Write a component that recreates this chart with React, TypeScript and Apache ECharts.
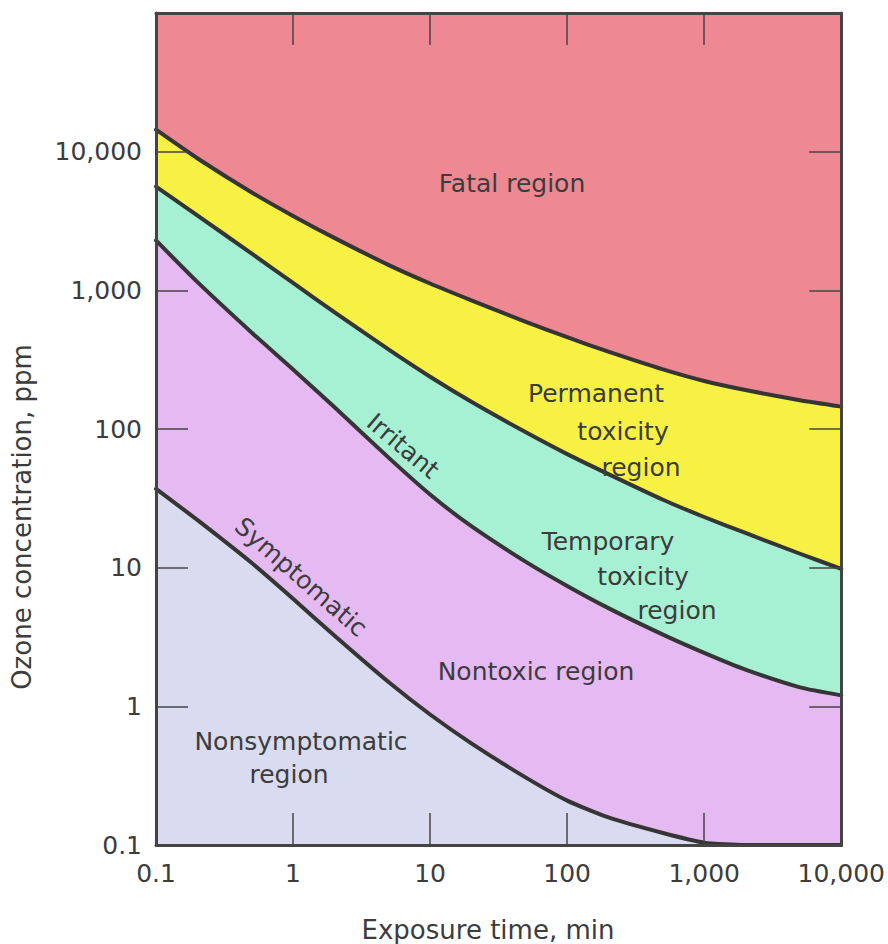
import React, { useEffect, useRef } from "react";
import * as echarts from "echarts";

// Exposure time (min) sample points along the boundaries
const exposureTimes = [0.1, 0.2, 0.5, 1, 2, 5, 10, 20, 50, 100, 200, 500, 1000, 2000, 5000, 10000];
// Ozone concentration (ppm) of each boundary curve
const fatalBoundary = [14400, 8970, 5080, 3440, 2390, 1520, 1120, 847, 593, 459, 361, 269, 222, 191, 161, 145];
const permanentBoundary = [5600, 3470, 1840, 1130, 697, 373, 238, 157, 94.6, 65.9, 47.3, 30.9, 23.2, 17.8, 12.6, 9.8];
const irritantBoundary = [2290, 1150, 495, 269, 144, 61.9, 33.7, 19.9, 11.0, 7.38, 5.11, 3.29, 2.43, 1.84, 1.37, 1.2];
const symptomaticBoundary = [37, 22.1, 10.8, 5.97, 3.24, 1.49, 0.873, 0.541, 0.306, 0.209, 0.158, 0.122, 0.104, 0.1, 0.1, 0.1];

const xMin = 0.1;
const xMax = 10000;
const yMin = 0.1;
const yMax = 100000;

const FONT = "DejaVu Sans";
const INK = "#353535";
const TEXT = "#3c3c3c";

const COLORS = {
  fatal: "#ee8892",
  permanent: "#f6f142",
  temporary: "#a6f0d4",
  nontoxic: "#e5b9f2",
  nonsymptomatic: "#d9dbf1",
};

function fmt(v: number): string {
  const n = Number(Number(v).toPrecision(6));
  if (n >= 100000) return "";
  if (n < 1) return String(n);
  return n.toLocaleString("en-US");
}

function regionFill(values: number[], color: string) {
  return {
    type: "custom",
    silent: true,
    z: 1,
    clip: true,
    data: [[xMin, yMin]],
    renderItem: (_params: any, api: any) => {
      const pts = exposureTimes.map((t, i) => api.coord([t, values[i]]));
      pts.push(api.coord([xMax, yMin]));
      pts.push(api.coord([xMin, yMin]));
      return {
        type: "polygon",
        shape: { points: pts },
        style: { fill: color, stroke: null },
      };
    },
  };
}

function boundaryLine(values: number[]) {
  return {
    type: "line",
    z: 3,
    silent: true,
    showSymbol: false,
    symbol: "none",
    smooth: 0.2,
    data: exposureTimes.map((t, i) => [t, values[i]]),
    lineStyle: { color: INK, width: 4, cap: "round", join: "round" },
  };
}

function label(text: string, x: number, y: number, rotation = 0) {
  return {
    type: "text",
    x,
    y,
    rotation,
    z: 20,
    style: {
      text,
      fill: TEXT,
      font: `25px "${FONT}"`,
      align: "center",
      verticalAlign: "middle",
    },
  };
}

const axisCommon = {
  type: "log",
  logBase: 10,
  z: 10,
  axisLine: { show: true, onZero: false, lineStyle: { color: "#444", width: 3 } },
  axisTick: { show: true, inside: true, length: 32, lineStyle: { color: "#444", width: 1.5 } },
  splitLine: { show: false },
  minorTick: { show: false },
};

export default function App() {
  const ref = useRef<HTMLDivElement>(null);

  useEffect(() => {
    if (!ref.current) return;
    const chart = echarts.init(ref.current, null, { renderer: "svg" });
    const option: any = {
      animation: false,
      backgroundColor: "#ffffff",
      grid: {
        left: 156,
        right: 46,
        top: 13,
        bottom: 99,
        show: true,
        backgroundColor: COLORS.fatal,
        borderWidth: 0,
      },
      xAxis: [
        {
          ...axisCommon,
          position: "bottom",
          min: xMin,
          max: xMax,
          axisLabel: {
            show: true,
            formatter: fmt,
            color: TEXT,
            fontFamily: FONT,
            fontSize: 25,
            margin: 16,
          },
        },
        {
          ...axisCommon,
          position: "top",
          min: xMin,
          max: xMax,
          axisLabel: { show: false },
        },
      ],
      yAxis: [
        {
          ...axisCommon,
          position: "left",
          min: yMin,
          max: yMax,
          axisLabel: {
            show: true,
            formatter: fmt,
            color: TEXT,
            fontFamily: FONT,
            fontSize: 25,
            margin: 14,
          },
        },
        {
          ...axisCommon,
          position: "right",
          min: yMin,
          max: yMax,
          axisLabel: { show: false },
        },
      ],
      series: [
        regionFill(fatalBoundary, COLORS.permanent),
        regionFill(permanentBoundary, COLORS.temporary),
        regionFill(irritantBoundary, COLORS.nontoxic),
        regionFill(symptomaticBoundary, COLORS.nonsymptomatic),
        boundaryLine(fatalBoundary),
        boundaryLine(permanentBoundary),
        boundaryLine(irritantBoundary),
        boundaryLine(symptomaticBoundary),
      ],
      graphic: [
        label("Fatal region", 512, 183),
        label("Permanent", 596, 393),
        label("toxicity", 623, 431),
        label("region", 641, 467),
        label("Temporary", 608, 541),
        label("toxicity", 643, 576),
        label("region", 677, 610),
        label("Nontoxic region", 536, 671),
        label("Nonsymptomatic", 301, 741),
        label("region", 289, 774),
        label("Irritant", 403, 446, -0.7),
        label("Symptomatic", 301, 577, -0.72),
        {
          type: "text",
          x: 488,
          y: 930,
          z: 20,
          style: {
            text: "Exposure time, min",
            fill: TEXT,
            font: `26px "${FONT}"`,
            align: "center",
            verticalAlign: "middle",
          },
        },
        {
          type: "text",
          x: 22,
          y: 517,
          rotation: Math.PI / 2,
          z: 20,
          style: {
            text: "Ozone concentration, ppm",
            fill: TEXT,
            font: `26px "${FONT}"`,
            align: "center",
            verticalAlign: "middle",
          },
        },
      ],
    };
    chart.setOption(option);
    return () => chart.dispose();
  }, []);

  return (
    <div
      ref={ref}
      style={{ position: "fixed", left: 0, top: 0, width: 888, height: 944 }}
    />
  );
}
